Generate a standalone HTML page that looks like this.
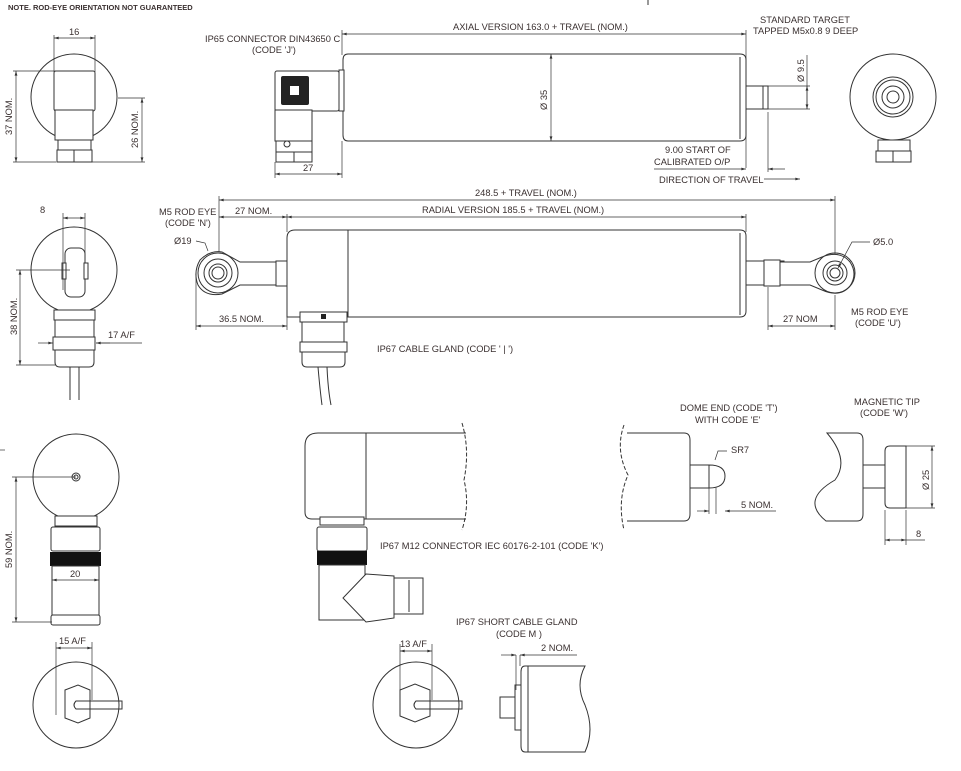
<!DOCTYPE html>
<html><head><meta charset="utf-8"><style>
html,body{margin:0;padding:0;background:#fff;}
svg{display:block}
text{font-family:"Liberation Sans",sans-serif;font-size:9.3px;fill:#3a3030;letter-spacing:0}
.s{fill:none;stroke:#333;stroke-width:1}
.f{fill:#fff;stroke:#333;stroke-width:1}
.t{stroke:#333;stroke-width:0.7;fill:none}
</style></head><body>
<svg width="961" height="771" viewBox="0 0 961 771" xmlns="http://www.w3.org/2000/svg">
<defs><marker id="a" viewBox="0 0 10 6" refX="10" refY="3" markerWidth="8" markerHeight="4" orient="auto-start-reverse"><path d="M0,0L10,3L0,6z" fill="#333"/></marker></defs>
<text x="8" y="10" style="font-size:7.5px;font-weight:bold;letter-spacing:0">NOTE. ROD-EYE ORIENTATION NOT GUARANTEED</text>
<line x1="648" y1="0" x2="648" y2="5" class="s"/>

<!-- TOP LEFT END VIEW -->
<circle cx="74" cy="97" r="43" class="s"/>
<rect x="54" y="71" width="41" height="40" rx="2" class="f"/>
<rect x="55" y="110" width="38" height="30" class="f"/>
<rect x="58" y="140" width="33" height="10" class="f"/>
<rect x="57" y="150" width="35" height="12" class="f"/>
<line x1="74" y1="150" x2="74" y2="162" class="s"/>
<line x1="54" y1="38" x2="95" y2="38" class="t" marker-start="url(#a)" marker-end="url(#a)"/>
<line x1="54" y1="35" x2="54" y2="72" class="t"/><line x1="95" y1="35" x2="95" y2="72" class="t"/>
<text x="69" y="35">16</text>
<line x1="16" y1="71" x2="16" y2="162" class="t" marker-start="url(#a)" marker-end="url(#a)"/>
<line x1="13" y1="71" x2="56" y2="71" class="t"/><line x1="13" y1="162" x2="56" y2="162" class="t"/>
<text transform="translate(12,135) rotate(-90)">37 NOM.</text>
<line x1="142" y1="98" x2="142" y2="162" class="t" marker-start="url(#a)" marker-end="url(#a)"/>
<line x1="118" y1="98" x2="145" y2="98" class="t"/><line x1="92" y1="162" x2="145" y2="162" class="t"/>
<text transform="translate(138,148) rotate(-90)">26 NOM.</text>

<!-- TOP AXIAL -->
<text x="205" y="42">IP65 CONNECTOR DIN43650 C</text>
<text x="252" y="53">(CODE 'J')</text>
<line x1="342" y1="34" x2="746" y2="34" class="t" marker-start="url(#a)" marker-end="url(#a)"/>
<line x1="342" y1="30" x2="342" y2="55" class="t"/><line x1="746" y1="30" x2="746" y2="168" class="t"/>
<text x="453" y="30">AXIAL VERSION 163.0 + TRAVEL (NOM.)</text>
<path d="M348,54 H740 Q746,54 746,60 V135 Q746,141 740,141 H348 Q343,141 343,135 V60 Q343,54 348,54Z" class="f"/>
<line x1="740" y1="57" x2="740" y2="139" class="s"/>
<rect x="339" y="70" width="5" height="41" class="f"/>
<rect x="275" y="71" width="64" height="40" rx="2" class="f"/>
<rect x="281" y="76" width="28" height="29" rx="2" fill="#222"/>
<rect x="290" y="86" width="9" height="9" fill="#fff"/>
<rect x="275" y="110" width="37" height="31" class="f"/>
<rect x="276" y="141" width="36" height="21" class="f"/>
<line x1="276" y1="152" x2="312" y2="152" class="s"/><line x1="294" y1="152" x2="294" y2="162" class="s"/>
<circle cx="287" cy="144" r="3" class="s"/>
<line x1="275" y1="174" x2="342" y2="174" class="t" marker-start="url(#a)" marker-end="url(#a)"/>
<line x1="275" y1="162" x2="275" y2="178" class="t"/><line x1="342" y1="141" x2="342" y2="178" class="t"/>
<text x="303" y="171">27</text>
<line x1="551" y1="54" x2="551" y2="141" class="t" marker-start="url(#a)" marker-end="url(#a)"/>
<text transform="translate(547,110) rotate(-90)">Ø 35</text>
<rect x="746" y="86" width="22" height="23" class="f"/>
<line x1="763" y1="86" x2="763" y2="109" class="s"/>
<line x1="768" y1="86" x2="810" y2="86" class="t"/><line x1="768" y1="109" x2="810" y2="109" class="t"/>
<line x1="807" y1="55" x2="807" y2="109" class="t"/>
<line x1="807" y1="98" x2="807" y2="86" class="t" marker-end="url(#a)"/>
<line x1="807" y1="98" x2="807" y2="109" class="t" marker-end="url(#a)"/>
<text transform="translate(804,82) rotate(-90)">Ø 9.5</text>
<text x="760" y="23">STANDARD TARGET</text>
<text x="753" y="34">TAPPED M5x0.8 9 DEEP</text>
<text x="665" y="153">9.00 START OF</text>
<text x="654" y="165">CALIBRATED O/P</text>
<line x1="654" y1="169" x2="746" y2="169" class="t" marker-end="url(#a)"/>
<line x1="768" y1="112" x2="768" y2="172" class="t"/>
<line x1="768" y1="169" x2="785" y2="169" class="t" marker-start="url(#a)"/>
<text x="659" y="183">DIRECTION OF TRAVEL</text>
<line x1="764" y1="179" x2="800" y2="179" class="t" marker-end="url(#a)"/>

<!-- TOP RIGHT END VIEW -->
<circle cx="893" cy="97" r="43" class="s"/>
<circle cx="893" cy="97" r="20" class="s"/><circle cx="893" cy="97" r="17" class="s"/>
<circle cx="893" cy="97" r="11" class="s"/><circle cx="893" cy="97" r="6" class="s"/>
<rect x="878" y="140" width="32" height="11" class="f"/>
<rect x="876" y="151" width="35" height="11" class="f"/>
<line x1="893" y1="151" x2="893" y2="162" class="s"/>

<!-- MIDDLE LEFT END VIEW -->
<circle cx="74" cy="270" r="43" class="s"/>
<rect x="65" y="248" width="20" height="49" rx="6" class="f"/>
<rect x="62" y="263" width="4" height="16" class="f"/><rect x="84" y="263" width="4" height="16" class="f"/>
<line x1="63" y1="218" x2="85" y2="218" class="t" marker-start="url(#a)" marker-end="url(#a)"/>
<line x1="63" y1="213" x2="63" y2="290" class="t"/><line x1="85" y1="213" x2="85" y2="260" class="t"/>
<text x="40" y="213">8</text>
<rect x="54" y="310" width="41" height="10" class="f"/>
<rect x="55" y="320" width="39" height="17" class="f"/>
<rect x="53" y="337" width="42" height="13" class="f"/>
<path d="M55,350 H94 V362 Q94,367 89,367 H60 Q55,367 55,362Z" class="f"/>
<line x1="70" y1="367" x2="70" y2="400" class="s"/><line x1="79" y1="367" x2="79" y2="400" class="s"/>
<line x1="38" y1="343" x2="53" y2="343" class="t" marker-end="url(#a)"/>
<line x1="110" y1="343" x2="96" y2="343" class="t" marker-end="url(#a)"/>
<line x1="96" y1="343" x2="142" y2="343" class="t"/>
<text x="108" y="338">17 A/F</text>
<line x1="20" y1="270" x2="20" y2="365" class="t" marker-start="url(#a)" marker-end="url(#a)"/>
<line x1="16" y1="270" x2="70" y2="270" class="t"/><line x1="16" y1="365" x2="55" y2="365" class="t"/>
<text transform="translate(17,335) rotate(-90)">38 NOM.</text>

<!-- MIDDLE RADIAL -->
<line x1="219" y1="200" x2="835" y2="200" class="t" marker-start="url(#a)" marker-end="url(#a)"/>
<line x1="219" y1="196" x2="219" y2="275" class="t"/><line x1="835" y1="196" x2="835" y2="275" class="t"/>
<text x="475" y="196">248.5 + TRAVEL (NOM.)</text>
<line x1="287" y1="217" x2="746" y2="217" class="t" marker-start="url(#a)" marker-end="url(#a)"/>
<line x1="287" y1="214" x2="287" y2="232" class="t"/><line x1="746" y1="214" x2="746" y2="232" class="t"/>
<text x="422" y="213">RADIAL VERSION 185.5 + TRAVEL (NOM.)</text>
<line x1="219" y1="217" x2="287" y2="217" class="t" marker-start="url(#a)" marker-end="url(#a)"/>
<text x="235" y="214">27 NOM.</text>
<text x="159" y="215">M5 ROD EYE</text>
<text x="165" y="226">(CODE 'N')</text>
<path d="M295,230 H740 Q746,230 746,236 V311 Q746,317 740,317 H287 V238 Q287,230 295,230Z" class="f"/>
<line x1="348" y1="230" x2="348" y2="317" class="s"/>
<line x1="740" y1="233" x2="740" y2="315" class="s"/>
<path d="M200,260 Q210,250 222,252 L240,262 H277 V285 H240 L222,294 Q205,297 198,285 Q193,272 200,260Z" class="f"/>
<rect x="276" y="261" width="11" height="25" class="f"/>
<circle cx="218" cy="273" r="20" class="s"/><circle cx="218" cy="273" r="14" class="s"/>
<circle cx="218" cy="273" r="9" class="s"/><circle cx="218" cy="273" r="6" class="s"/>
<text x="174" y="244">Ø19</text>
<path d="M196,241 L205,243 L208,251" class="t"/>
<line x1="196" y1="326" x2="287" y2="326" class="t" marker-start="url(#a)" marker-end="url(#a)"/>
<line x1="196" y1="273" x2="196" y2="330" class="t"/><line x1="287" y1="317" x2="287" y2="330" class="t"/>
<text x="219" y="322">36.5 NOM.</text>
<rect x="746" y="261" width="38" height="24" class="f"/>
<rect x="764" y="260" width="16" height="26" class="f"/>
<path d="M780,262 H810 L822,257 Q840,250 850,262 Q858,274 850,286 Q840,298 822,290 L810,285 H780Z" class="f"/>
<circle cx="835" cy="273" r="20" class="s"/><circle cx="835" cy="273" r="12" class="s"/>
<circle cx="835" cy="273" r="8" class="s"/><circle cx="835" cy="273" r="5" class="s"/>
<path d="M870,242 H852 L838,268" class="t" marker-end="url(#a)"/>
<text x="873" y="245">Ø5.0</text>
<line x1="768" y1="326" x2="835" y2="326" class="t" marker-start="url(#a)" marker-end="url(#a)"/>
<line x1="768" y1="287" x2="768" y2="330" class="t"/><line x1="835" y1="295" x2="835" y2="330" class="t"/>
<text x="783" y="322">27 NOM</text>
<text x="851" y="315">M5 ROD EYE</text>
<text x="855" y="326">(CODE 'U')</text>
<rect x="300" y="312" width="47" height="10" class="f"/>
<rect x="321" y="314" width="5" height="5" fill="#222"/>
<rect x="302" y="322" width="42" height="20" class="f"/>
<rect x="300" y="342" width="47" height="10" class="f"/>
<path d="M302,352 H345 V362 Q345,367 340,367 H307 Q302,367 302,362Z" class="f"/>
<path d="M318,367 Q320,390 322,405 M327,367 Q328,390 331,405" class="s"/>
<text x="377" y="352">IP67 CABLE GLAND (CODE ' | ')</text>

<!-- BOTTOM LEFT -->
<circle cx="76" cy="477" r="43" class="s"/>
<circle cx="76" cy="477" r="4" class="s"/><circle cx="76" cy="477" r="2" class="s"/>
<rect x="55" y="516" width="42" height="10" class="f"/>
<rect x="51" y="527" width="49" height="24" rx="2" class="f"/>
<rect x="50" y="552" width="51" height="14" fill="#111"/>
<rect x="52" y="566" width="47" height="55" class="f"/>
<rect x="51" y="615" width="49" height="10" rx="2" class="f"/>
<line x1="52" y1="580" x2="99" y2="580" class="t" marker-start="url(#a)" marker-end="url(#a)"/>
<text x="70" y="577">20</text>
<line x1="16" y1="477" x2="16" y2="622" class="t" marker-start="url(#a)" marker-end="url(#a)"/>
<line x1="12" y1="477" x2="76" y2="477" class="t"/><line x1="12" y1="622" x2="52" y2="622" class="t"/>
<line x1="0" y1="450" x2="5" y2="450" class="t"/>
<text transform="translate(12,568) rotate(-90)">59 NOM.</text>

<!-- BOTTOM END VIEWS -->
<circle cx="76" cy="705" r="43" class="s"/>
<path d="M65,690 L78,685 L90,690 V718 L78,723 L65,718Z" class="s"/>
<path d="M76,701 H122 V709 H76 Q72,705 76,701Z" class="s"/>
<line x1="56" y1="648" x2="92" y2="648" class="t" marker-start="url(#a)" marker-end="url(#a)"/>
<line x1="56" y1="642" x2="56" y2="715" class="t"/><line x1="92" y1="642" x2="92" y2="700" class="t"/>
<text x="59" y="644">15 A/F</text>
<circle cx="416" cy="705" r="43" class="s"/>
<path d="M400,690 L415,684 L430,690 V716 L415,722 L400,716Z" class="s"/>
<path d="M416,701 H462 V709 H416 Q412,705 416,701Z" class="s"/>
<line x1="400" y1="651" x2="432" y2="651" class="t" marker-start="url(#a)" marker-end="url(#a)"/>
<line x1="400" y1="644" x2="400" y2="715" class="t"/><line x1="432" y1="644" x2="432" y2="700" class="t"/>
<text x="400" y="647">13 A/F</text>

<!-- M12 radial -->
<path d="M318,433 H466 M318,519 H466 M318,433 Q305,433 305,446 V512 Q305,519 312,519 H318" class="s"/>
<path d="M318,433 H366 V519" class="s"/>
<path d="M462,423 Q470,450 464,480 Q470,505 462,530" class="s" stroke-dasharray="4,2"/>
<rect x="320" y="517" width="44" height="8" class="f"/>
<rect x="317" y="527" width="50" height="24" rx="2" class="f"/>
<rect x="317" y="551" width="50" height="14" fill="#111"/>
<rect x="319" y="565" width="46" height="55" class="f"/>
<path d="M366,574 L343,598 L366,622 L394,618 V576Z" class="f"/>
<rect x="394" y="578" width="29" height="36" class="f"/>
<line x1="409" y1="580" x2="409" y2="612" class="s"/>
<text x="380" y="549">IP67 M12 CONNECTOR IEC 60176-2-101 (CODE 'K')</text>

<!-- DOME END -->
<text x="680" y="411">DOME END (CODE 'T')</text>
<text x="695" y="423">WITH CODE 'E'</text>
<path d="M624,425 Q615,450 628,475 Q617,500 624,530" class="s" stroke-dasharray="4,2"/>
<path d="M627,433 H684 Q690,433 690,440 V514 Q690,521 684,521 H627" class="s"/>
<rect x="690" y="465" width="19" height="23" class="f"/>
<path d="M709,465 Q725,465 725,476 Q725,488 709,488Z" class="f"/>
<line x1="716" y1="488" x2="716" y2="514" class="t"/><line x1="709" y1="488" x2="709" y2="514" class="t"/>
<line x1="697" y1="511" x2="709" y2="511" class="t" marker-end="url(#a)"/>
<line x1="776" y1="511" x2="725" y2="511" class="t" marker-end="url(#a)"/>
<text x="741" y="508">5 NOM.</text>
<path d="M715,460 L718,451 H727" class="t"/>
<text x="731" y="453">SR7</text>

<!-- MAGNETIC TIP -->
<text x="854" y="405">MAGNETIC TIP</text>
<text x="860" y="416">(CODE 'W')</text>
<path d="M827,433 H857 Q863,433 863,440 V514 Q863,521 857,521 H826 Q800,500 835,480 Q850,460 827,433Z" class="f"/>
<rect x="863" y="465" width="22" height="23" class="f"/>
<path d="M890,446 H906 V508 H890 Q885,508 885,503 V451 Q885,446 890,446Z" class="f"/>
<line x1="906" y1="446" x2="935" y2="446" class="t"/><line x1="906" y1="508" x2="935" y2="508" class="t"/>
<line x1="932" y1="446" x2="932" y2="508" class="t" marker-start="url(#a)" marker-end="url(#a)"/>
<text transform="translate(929,490) rotate(-90)">Ø 25</text>
<line x1="885" y1="510" x2="885" y2="545" class="t"/><line x1="906" y1="510" x2="906" y2="545" class="t"/>
<line x1="885" y1="540" x2="906" y2="540" class="t" marker-start="url(#a)" marker-end="url(#a)"/>
<line x1="906" y1="540" x2="925" y2="540" class="t"/>
<text x="916" y="537">8</text>

<!-- SHORT CABLE GLAND -->
<text x="456" y="625">IP67 SHORT CABLE GLAND</text>
<text x="496" y="637">(CODE M )</text>
<path d="M525,666 H585 Q575,685 585,705 Q595,730 585,752 H525 Q521,752 521,746 V672 Q521,666 525,666Z" class="f"/>
<line x1="528" y1="666" x2="528" y2="752" class="s"/>
<rect x="515" y="685" width="6" height="45" class="f"/>
<rect x="500" y="697" width="15" height="21" class="f"/>
<line x1="516" y1="655" x2="516" y2="690" class="t"/><line x1="520" y1="655" x2="520" y2="666" class="t"/>
<line x1="501" y1="655" x2="516" y2="655" class="t" marker-end="url(#a)"/>
<line x1="577" y1="655" x2="520" y2="655" class="t" marker-end="url(#a)"/>
<text x="541" y="651">2 NOM.</text>
</svg>
</body></html>
